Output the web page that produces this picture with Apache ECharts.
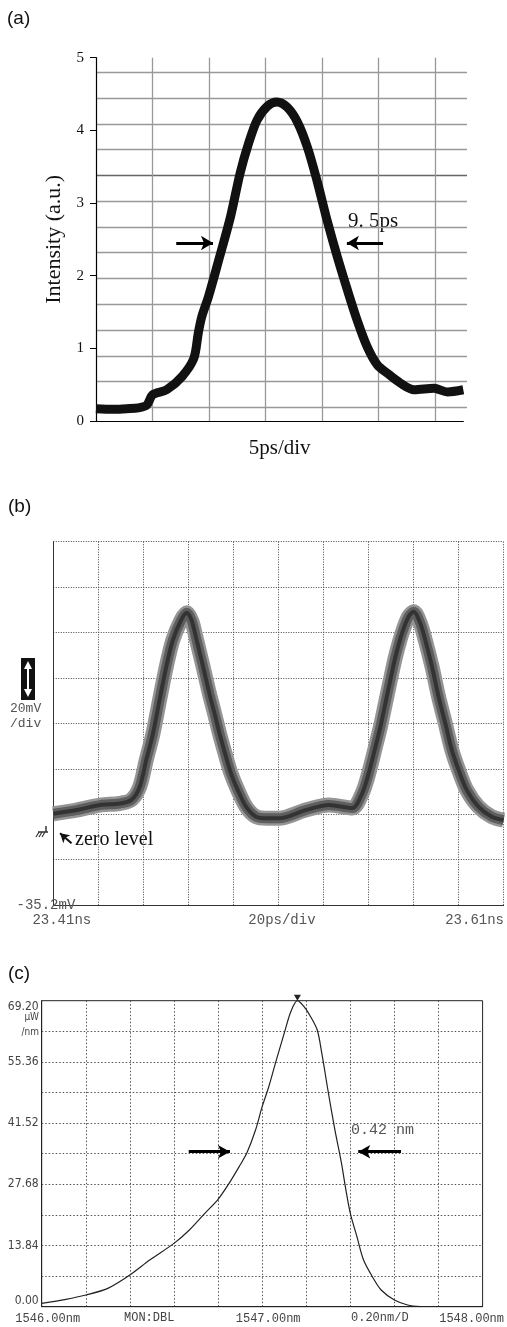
<!DOCTYPE html>
<html>
<head>
<meta charset="utf-8">
<script src="https://cdn.jsdelivr.net/npm/echarts@6.0.0/dist/echarts.min.js"></script>
<style>
  html, body { margin: 0; padding: 0; background: #fff; }
  #chart { width: 507px; height: 1327px; }
</style>
</head>
<body>
<div id="chart"></div>
<script>
// (a) pulse trace, time in divisions (5 ps/div), intensity in a.u.
var aTime = [0, 0.3, 0.54, 0.75, 0.9, 1.0, 1.25, 1.52, 1.73, 1.81, 1.87, 1.99, 2.17, 2.38, 2.55, 2.70, 2.85, 3.03, 3.20, 3.38,
  3.56, 3.74, 3.91, 4.09, 4.27, 4.45, 4.62, 4.80, 4.98, 5.15, 5.39, 5.63, 5.98, 6.22, 6.5];
var aIntensity = [0.17, 0.16, 0.17, 0.18, 0.22, 0.36, 0.43, 0.61, 0.86, 1.21, 1.43, 1.71, 2.21, 2.81, 3.41, 3.82, 4.14, 4.33, 4.39, 4.32,
  4.12, 3.77, 3.31, 2.76, 2.26, 1.80, 1.39, 1.02, 0.77, 0.66, 0.52, 0.43, 0.45, 0.40, 0.43];

// (b) sampling scope, ps after 23.41 ns, mV
var bTime = [0, 10.3, 20.7, 29.5, 34.7, 38.4, 41.3, 44.3, 47.2, 50.2,
  53.1, 56.8, 59.3, 61.5, 63.5, 66.4, 69.3, 71.6, 73.8, 76.7,
  78.9, 81.9, 85.6, 90.0, 95.0, 100.3, 112.1, 122.4, 132.8, 137.2,
  140.1, 143.1, 145.3, 147.5, 149.7, 152.0, 154.9, 157.8, 160.1, 163.0,
  165.2, 168.2, 171.1, 174.1, 177.0, 180.0, 183.6, 188.8, 194.7, 200];
var bVoltage = [5.0, 6.6, 8.8, 9.5, 11.1, 16.9, 28.7, 40.4, 55.1, 69.8,
  81.5, 90.3, 93.5, 90.0, 82.1, 70.3, 58.0, 49.2, 40.4, 30.1,
  22.8, 15.5, 8.1, 3.7, 3.0, 3.0, 6.6, 8.8, 7.5, 14.0,
  22.8, 34.5, 43.3, 53.6, 63.9, 74.2, 84.5, 91.8, 94.0, 88.9,
  81.5, 69.8, 56.6, 44.8, 33.1, 24.3, 15.5, 8.1, 3.7, 2.2];
var bTimeLabels = ['23.41ns', '20ps/div', '23.61ns'];
var bVoltLabel = '-35.2mV';

// (c) optical spectrum, nm and µW/nm
var cWavelength = [1546.00, 1546.11, 1546.20, 1546.30, 1546.40, 1546.49, 1546.60, 1546.67, 1546.74, 1546.80,
  1546.85, 1546.90, 1546.93, 1546.97, 1547.00, 1547.03, 1547.06, 1547.10, 1547.13, 1547.16,
  1547.19, 1547.22, 1547.25, 1547.27, 1547.30, 1547.33, 1547.36, 1547.38, 1547.40,
  1547.43, 1547.46, 1547.50, 1547.54, 1547.60, 1547.66, 1547.72];
var cPower = [0.75, 1.66, 2.64, 4.15, 7.16, 10.55, 14.32, 17.34, 21.11, 24.27,
  27.89, 32.04, 34.68, 39.95, 45.23, 49.75, 55.03, 61.81, 66.71, 69.20,
  67.84, 65.58, 62.57, 57.50, 48.50, 40.00, 32.41, 26.38, 21.11,
  15.83, 10.55, 6.78, 3.77, 1.51, 0.38, 0.0];
var cPowerTicks = [0, 13.84, 27.68, 41.52, 55.36, 69.20];
var cWaveTicks = ['1546.00nm', '1547.00nm', '1548.00nm'];

function zip(xs, ys) {
  return xs.map(function (x, i) { return [x, ys[i]]; });
}

var serif = 'Liberation Serif, Times New Roman, serif';
var mono = 'Liberation Mono, DejaVu Sans Mono, monospace';
var narrow = 'Liberation Sans Narrow, DejaVu Sans Condensed, Liberation Sans, sans-serif';
var dots = [1, 1.5];

function scopeTrace(width, color) {
  return {
    type: 'line', xAxisIndex: 2, yAxisIndex: 2,
    data: zip(bTime, bVoltage),
    smooth: 0.3, symbol: 'none', silent: true,
    lineStyle: { color: color, width: width }
  };
}

var chart = echarts.init(document.getElementById('chart'));
var zeroArrow = scopeTrace(4, '#333');
zeroArrow.markLine = {
  silent: true, symbol: ['none', 'arrow'], symbolSize: [8, 9],
  label: { show: false },
  lineStyle: { color: '#111', width: 2, type: 'solid' },
  data: [[{ coord: [8.1, -8.0] }, { coord: [3.0, -3.6] }]]
};

var option = {
  animation: false,
  backgroundColor: '#fff',
  grid: [
    { left: 96, top: 57.7, width: 367.3, height: 363.3 },
    { left: 96, top: 72.3, width: 371, height: 335 },
    { left: 53.3, top: 541.7, width: 451.7, height: 363.3 },
    { left: 41.7, top: 1000.7, width: 452.6, height: 306, show: true, borderColor: '#222', borderWidth: 1 }
  ],
  xAxis: [
    {
      gridIndex: 0, type: 'value', min: 0, max: 6.5, interval: 1,
      axisLine: { lineStyle: { color: '#000', width: 1.2 } },
      axisTick: { show: false }, axisLabel: { show: false },
      splitLine: { show: true, showMinLine: false, showMaxLine: false, lineStyle: { color: '#999', width: 1.3 } },
      name: '5ps/div', nameLocation: 'middle', nameGap: 17,
      nameTextStyle: { fontFamily: serif, fontSize: 21, color: '#111' }
    },
    {
      gridIndex: 1, type: 'value', min: 0, max: 1,
      axisLine: { show: false }, axisTick: { show: false }, axisLabel: { show: false }, splitLine: { show: false }
    },
    {
      gridIndex: 2, type: 'value', min: 0, max: 200, interval: 20,
      axisLine: { onZero: false, lineStyle: { color: '#333', width: 1 } },
      axisTick: { show: false },
      axisLabel: {
        margin: 8, fontFamily: mono, fontSize: 14, color: '#555',
        formatter: function (v, i) {
          if (i === 0) return '{l|' + bTimeLabels[0] + '}';
          if (i === 5) return '{m|' + bTimeLabels[1] + '}';
          if (i === 10) return '{r|' + bTimeLabels[2] + '}';
          return '';
        },
        rich: {
          l: { fontFamily: mono, fontSize: 14, color: '#555', padding: [0, 0, 0, 17] },
          m: { fontFamily: mono, fontSize: 14, color: '#555', padding: [0, 0, 0, 7] },
          r: { fontFamily: mono, fontSize: 14, color: '#555', padding: [0, 58, 0, 0] }
        }
      },
      splitLine: { show: true, showMinLine: false, lineStyle: { color: '#444', width: 1, type: dots } }
    },
    {
      gridIndex: 3, type: 'value', min: 1546, max: 1548, interval: 0.2,
      axisLine: { onZero: false, lineStyle: { color: '#222', width: 1 } },
      axisTick: { show: false },
      axisLabel: {
        margin: 6, fontFamily: mono, fontSize: 12, color: '#444',
        formatter: function (v, i) {
          if (i === 0) return '{l|' + cWaveTicks[0] + '}';
          if (i === 5) return '{l|' + cWaveTicks[1] + '}';
          if (i === 10) return '{r|' + cWaveTicks[2] + '}';
          return '';
        },
        rich: {
          l: { fontFamily: mono, fontSize: 12, color: '#444', padding: [0, 0, 0, 12] },
          r: { fontFamily: mono, fontSize: 12, color: '#444', padding: [0, 22, 0, 0] }
        }
      },
      splitLine: { show: true, showMinLine: false, showMaxLine: false, lineStyle: { color: '#555', width: 1, type: [1.5, 2] } }
    }
  ],
  yAxis: [
    {
      gridIndex: 0, type: 'value', min: 0, max: 5, interval: 1,
      axisLine: { show: true, lineStyle: { color: '#000', width: 1.2 } },
      axisTick: { show: true, length: 6, lineStyle: { color: '#000' } },
      axisLabel: { margin: 12, fontFamily: serif, fontSize: 15, color: '#111' },
      splitLine: { show: false },
      name: 'Intensity (a.u.)', nameLocation: 'middle', nameGap: 28,
      nameTextStyle: { fontFamily: serif, fontSize: 22, color: '#111' }
    },
    {
      gridIndex: 1, type: 'value', min: 0, max: 13, interval: 1,
      axisLine: { show: false }, axisTick: { show: false }, axisLabel: { show: false },
      splitLine: {
        show: true,
        lineStyle: { width: 1.3, color: ['#999', '#999', '#999', '#999', '#999', '#999', '#999', '#999', '#999', '#666', '#999', '#999', '#999', '#999'] }
      }
    },
    {
      gridIndex: 2, type: 'value', min: -35.2, max: 124.8, interval: 20,
      axisLine: { show: true, onZero: false, lineStyle: { color: '#333', width: 1 } },
      axisTick: { show: false },
      axisLabel: {
        margin: -22, fontFamily: mono, fontSize: 14, color: '#555',
        formatter: function (v, i) { return i === 0 ? bVoltLabel : ''; }
      },
      splitLine: { show: true, showMinLine: false, lineStyle: { color: '#444', width: 1, type: dots } }
    },
    {
      gridIndex: 3, type: 'value', min: 0, max: cPowerTicks[cPowerTicks.length - 1], interval: cPowerTicks[1] / 2,
      axisLine: { show: true, lineStyle: { color: '#222', width: 1 } },
      axisTick: { show: false },
      axisLabel: {
        margin: 3, fontFamily: narrow, fontSize: 12, color: '#444',
        verticalAlignMinLabel: 'bottom', verticalAlignMaxLabel: 'top',
        formatter: function (v, i) { return i % 2 === 0 ? cPowerTicks[i / 2].toFixed(2) : ''; }
      },
      splitLine: { show: true, showMinLine: false, showMaxLine: false, lineStyle: { color: '#555', width: 1, type: [1.5, 2] } }
    }
  ],
  series: [
    {
      type: 'line', xAxisIndex: 0, yAxisIndex: 0,
      data: zip(aTime, aIntensity),
      smooth: 0.3, symbol: 'none',
      lineStyle: { color: '#111', width: 9 },
      markLine: {
        silent: true, symbol: ['none', 'arrow'], symbolSize: [11, 12],
        label: { show: false },
        lineStyle: { color: '#000', width: 3, type: 'solid' },
        data: [
          [{ coord: [1.42, 2.45] }, { coord: [2.07, 2.45] }],
          [{ coord: [5.08, 2.45] }, { coord: [4.44, 2.45] }]
        ]
      }
    },
    scopeTrace(15, '#959595'),
    scopeTrace(10, '#5e5e5e'),
    zeroArrow,
    {
      type: 'line', xAxisIndex: 3, yAxisIndex: 3,
      data: zip(cWavelength, cPower),
      smooth: 0.3, symbol: 'none',
      lineStyle: { color: '#222', width: 1.2 },
      markPoint: {
        silent: true, symbol: 'triangle', symbolRotate: 180, symbolSize: [7, 6], symbolOffset: [0, -3],
        itemStyle: { color: '#222' }, label: { show: false },
        data: [{ type: 'max' }]
      },
      markLine: {
        silent: true, symbol: ['none', 'arrow'], symbolSize: [10, 12],
        label: { show: false },
        lineStyle: { color: '#000', width: 3, type: 'solid' },
        data: [
          [{ coord: [1546.667, 35.05] }, { coord: [1546.854, 35.05] }],
          [{ coord: [1547.630, 35.05] }, { coord: [1547.436, 35.05] }]
        ]
      }
    }
  ],
  graphic: [
    { type: 'text', left: 7, top: 9, style: { text: '(a)', font: '19px Liberation Sans, Arial, sans-serif', fill: '#111' } },
    { type: 'text', left: 348, top: 211, style: { text: '9. 5ps', font: '21px ' + serif, fill: '#111' } },

    { type: 'text', left: 8, top: 497, style: { text: '(b)', font: '19px Liberation Sans, Arial, sans-serif', fill: '#111' } },
    { type: 'rect', shape: { x: 21, y: 658, width: 14, height: 42 }, style: { fill: '#111' } },
    { type: 'line', shape: { x1: 28, y1: 664, x2: 28, y2: 694 }, style: { stroke: '#fff', lineWidth: 2 } },
    { type: 'polygon', shape: { points: [[24, 669], [28, 661], [32, 669]] }, style: { fill: '#fff' } },
    { type: 'polygon', shape: { points: [[24, 689], [28, 697], [32, 689]] }, style: { fill: '#fff' } },
    { type: 'text', left: 10, top: 702, style: { text: '20mV', font: '13px ' + mono, fill: '#555' } },
    { type: 'text', left: 10, top: 717, style: { text: '/div', font: '13px ' + mono, fill: '#555' } },
    { type: 'line', shape: { x1: 46, y1: 826, x2: 46, y2: 832 }, style: { stroke: '#333', lineWidth: 1.5 } },
    { type: 'line', shape: { x1: 38, y1: 832, x2: 48, y2: 832 }, style: { stroke: '#333', lineWidth: 1.5 } },
    { type: 'line', shape: { x1: 39, y1: 832, x2: 36, y2: 837 }, style: { stroke: '#333', lineWidth: 1.2 } },
    { type: 'line', shape: { x1: 42, y1: 832, x2: 39, y2: 837 }, style: { stroke: '#333', lineWidth: 1.2 } },
    { type: 'line', shape: { x1: 45, y1: 832, x2: 42, y2: 837 }, style: { stroke: '#333', lineWidth: 1.2 } },
    { type: 'text', left: 75, top: 830, style: { text: 'zero level', font: '20px ' + serif, fill: '#111' } },

    { type: 'text', left: 8, top: 964, style: { text: '(c)', font: '19px Liberation Sans, Arial, sans-serif', fill: '#111' } },
    { type: 'text', right: 468, top: 1012, style: { text: 'µW', font: '10px ' + narrow, fill: '#444', align: 'right' } },
    { type: 'text', right: 468, top: 1027, style: { text: '/nm', font: '10px ' + narrow, fill: '#444', align: 'right' } },
    { type: 'text', left: 124, top: 1312, style: { text: 'MON:DBL', font: '12px ' + mono, fill: '#444' } },
    { type: 'text', left: 351, top: 1312, style: { text: '0.20nm/D', font: '12px ' + mono, fill: '#444' } },
    { type: 'text', left: 351, top: 1123, style: { text: '0.42 nm', font: '15px ' + mono, fill: '#555' } }
  ]
};
chart.setOption(option);
</script>
</body>
</html>
